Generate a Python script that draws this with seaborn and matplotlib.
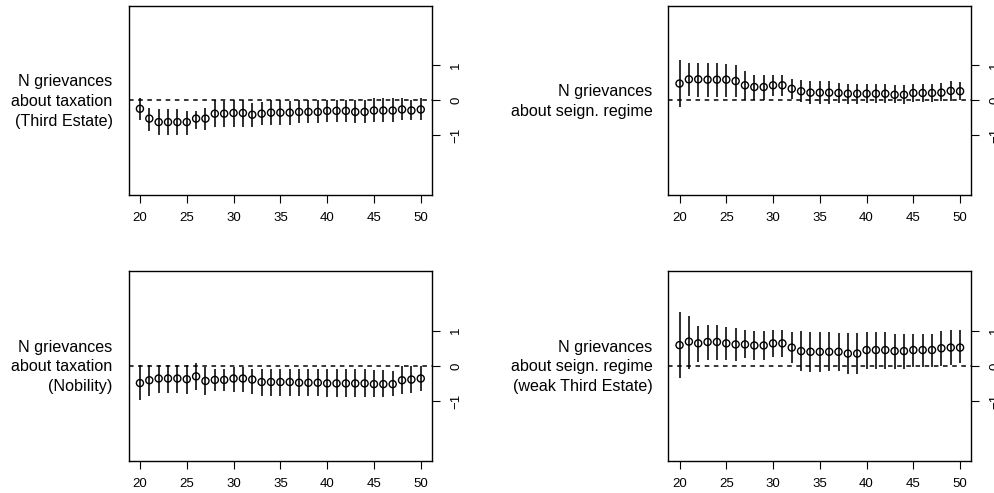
import matplotlib
matplotlib.use("Agg")
import matplotlib.pyplot as plt
import seaborn as sns
import pandas as pd

sns.set_style("ticks")
plt.rcParams["font.family"] = ["Liberation Sans", "DejaVu Sans"]
plt.rcParams["text.color"] = "black"
plt.rcParams["xtick.color"] = "black"
plt.rcParams["ytick.color"] = "black"

x = list(range(20, 51))

labels = [
    "N grievances\nabout taxation\n(Third Estate)",
    "N grievances\nabout seign. regime",
    "N grievances\nabout taxation\n(Nobility)",
    "N grievances\nabout seign. regime\n(weak Third Estate)",
]

est_tax_third = [-0.24, -0.52, -0.62, -0.62, -0.62, -0.62, -0.52, -0.52, -0.38, -0.38, -0.36,
                 -0.36, -0.41, -0.38, -0.35, -0.35, -0.35, -0.33, -0.33, -0.33, -0.30, -0.30,
                 -0.30, -0.33, -0.33, -0.29, -0.29, -0.29, -0.26, -0.29, -0.26]
lo_tax_third = [-0.55, -0.88, -1.00, -1.00, -1.00, -1.00, -0.81, -0.86, -0.76, -0.76, -0.76,
                -0.76, -0.76, -0.69, -0.69, -0.69, -0.69, -0.65, -0.65, -0.65, -0.62, -0.62,
                -0.62, -0.65, -0.65, -0.62, -0.62, -0.62, -0.57, -0.57, -0.57]
hi_tax_third = [0.07, -0.21, -0.24, -0.24, -0.24, -0.29, -0.31, -0.21, 0.00, -0.03, 0.02,
                0.02, -0.08, -0.05, 0.00, 0.00, -0.03, 0.00, 0.00, 0.00, 0.02, 0.02,
                0.02, 0.00, 0.00, 0.07, 0.07, 0.07, 0.07, 0.02, 0.07]

est_seign = [0.48, 0.60, 0.60, 0.59, 0.59, 0.59, 0.55, 0.43, 0.38, 0.38, 0.43,
             0.43, 0.33, 0.26, 0.22, 0.22, 0.22, 0.21, 0.19, 0.19, 0.19, 0.19,
             0.19, 0.16, 0.16, 0.21, 0.21, 0.21, 0.22, 0.27, 0.26]
lo_seign = [-0.19, 0.12, 0.10, 0.10, 0.10, 0.10, 0.10, 0.02, 0.02, 0.02, 0.11,
            0.11, 0.05, -0.05, -0.10, -0.10, -0.10, -0.08, -0.11, -0.10, -0.08, -0.08,
            -0.08, -0.08, -0.10, -0.05, -0.05, -0.05, -0.03, -0.03, 0.00]
hi_seign = [1.14, 1.07, 1.07, 1.07, 1.07, 1.05, 1.00, 0.83, 0.71, 0.71, 0.71,
            0.71, 0.60, 0.57, 0.54, 0.54, 0.54, 0.50, 0.48, 0.48, 0.48, 0.48,
            0.48, 0.43, 0.43, 0.48, 0.48, 0.48, 0.50, 0.54, 0.52]

est_tax_nob = [-0.49, -0.41, -0.36, -0.36, -0.36, -0.38, -0.30, -0.43, -0.40, -0.40, -0.36,
               -0.36, -0.39, -0.46, -0.46, -0.46, -0.46, -0.48, -0.48, -0.48, -0.50, -0.50,
               -0.50, -0.50, -0.50, -0.52, -0.52, -0.52, -0.41, -0.39, -0.36]
lo_tax_nob = [-0.96, -0.87, -0.77, -0.77, -0.77, -0.81, -0.70, -0.84, -0.71, -0.71, -0.74,
              -0.74, -0.79, -0.86, -0.86, -0.86, -0.86, -0.87, -0.87, -0.87, -0.89, -0.89,
              -0.89, -0.89, -0.89, -0.89, -0.89, -0.87, -0.81, -0.77, -0.72]
hi_tax_nob = [0.02, 0.02, 0.02, 0.02, 0.02, 0.02, 0.07, -0.03, -0.08, -0.08, -0.03,
              -0.03, -0.08, -0.08, -0.08, -0.08, -0.08, -0.10, -0.10, -0.10, -0.10, -0.10,
              -0.10, -0.10, -0.10, -0.12, -0.12, -0.14, -0.01, -0.01, -0.01]

est_seign_weak = [0.59, 0.69, 0.64, 0.68, 0.68, 0.64, 0.61, 0.61, 0.58, 0.58, 0.64,
                  0.64, 0.52, 0.42, 0.40, 0.40, 0.40, 0.40, 0.35, 0.35, 0.45, 0.45,
                  0.45, 0.42, 0.42, 0.45, 0.45, 0.45, 0.50, 0.52, 0.52]
lo_seign_weak = [-0.36, -0.08, 0.11, 0.16, 0.16, 0.16, 0.13, 0.21, 0.16, 0.16, 0.26,
                 0.26, 0.09, -0.14, -0.17, -0.17, -0.14, -0.14, -0.24, -0.24, -0.08, -0.08,
                 -0.08, -0.08, -0.08, -0.03, -0.03, -0.03, -0.01, 0.02, 0.07]
hi_seign_weak = [1.54, 1.43, 1.13, 1.16, 1.16, 1.10, 1.07, 1.02, 0.99, 0.99, 1.02,
                 1.02, 0.95, 0.99, 0.97, 0.97, 0.97, 0.94, 0.94, 0.94, 0.97, 0.97,
                 0.97, 0.90, 0.90, 0.92, 0.92, 0.92, 0.99, 1.02, 1.02]

x_ticks = [20, 25, 30, 35, 40, 45, 50]
y_ticks = [-1, 0, 1]

panels = [
    (est_tax_third, lo_tax_third, hi_tax_third),
    (est_seign, lo_seign, hi_seign),
    (est_tax_nob, lo_tax_nob, hi_tax_nob),
    (est_seign_weak, lo_seign_weak, hi_seign_weak),
]

W, H = 995, 493
fig = plt.figure(figsize=(W / 100, H / 100), dpi=100)

# panel boxes in pixels: (left, right, top, bottom)
boxes = [
    (128.7, 432.0, 5.7, 195.0),
    (668.3, 971.3, 5.7, 195.0),
    (128.7, 432.0, 271.0, 460.7),
    (668.3, 971.3, 271.0, 460.7),
]

for (est, lo, hi), (l, r, t, b), lab in zip(panels, boxes, labels):
    ax = fig.add_axes([l / W, 1 - b / H, (r - l) / W, (b - t) / H])
    df = pd.DataFrame({"x": x, "est": est, "lo": lo, "hi": hi})
    ax.axhline(0, color="black", lw=1.1, ls=(0, (3, 3)), zorder=1)
    ax.vlines(df["x"], df["lo"], df["hi"], color="black", lw=1.15, zorder=2)
    sns.scatterplot(data=df, x="x", y="est", ax=ax, marker="o", s=26,
                    facecolor="none", edgecolor="black", linewidth=1.0, zorder=3,
                    legend=False)
    ax.set_xlim(18.8, 51.2)
    ax.set_ylim(-2.7, 2.7)
    ax.set_xticks(x_ticks)
    ax.set_xticklabels([str(v) for v in x_ticks], fontsize=9.5)
    ax.set_yticks(y_ticks)
    ax.set_yticklabels([str(v).replace("-", "\u2212") for v in y_ticks], fontsize=9.5,
                       rotation=90, va="center")
    ax.yaxis.tick_right()
    ax.tick_params(axis="x", length=5.5, width=0.8, pad=7, direction="out")
    ax.tick_params(axis="y", length=5.5, width=0.8, pad=7.5, direction="out")
    ax.set_xlabel("")
    ax.set_ylabel("")
    for sp in ax.spines.values():
        sp.set_visible(True)
        sp.set_color("black")
        sp.set_linewidth(1.0)
    fig.text((l - 16) / W, 1 - ((t + b) / 2 + 1) / H, lab, ha="right", va="center",
             fontsize=11.6, linespacing=1.4, color="black")

fig.savefig("out.png", dpi=100)
